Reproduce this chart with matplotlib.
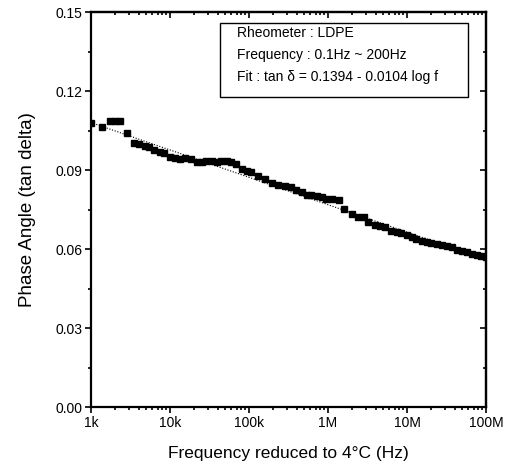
import numpy as np
import matplotlib
matplotlib.use('Agg')
import matplotlib.pyplot as plt
from matplotlib.patches import Rectangle
from matplotlib.ticker import FixedLocator, LogLocator, NullFormatter, MultipleLocator

plt.rcParams['font.family'] = ['Liberation Sans', 'DejaVu Sans']

# log10 of frequency (Hz) and tan delta
log_freq = [3.00, 3.14, 3.24, 3.30, 3.37, 3.45, 3.55, 3.61, 3.68, 3.74,
            3.80, 3.87, 3.93, 4.00, 4.06, 4.13, 4.19, 4.26, 4.34, 4.40,
            4.46, 4.53, 4.59, 4.65, 4.72, 4.77, 4.84, 4.91, 4.97, 5.03,
            5.12, 5.20, 5.29, 5.37, 5.46, 5.53, 5.60, 5.67, 5.73, 5.79,
            5.86, 5.92, 5.98, 6.05, 6.14, 6.20, 6.30, 6.38, 6.45, 6.51,
            6.59, 6.66, 6.72, 6.80, 6.87, 6.93, 7.00, 7.06, 7.12, 7.19,
            7.25, 7.31, 7.38, 7.44, 7.50, 7.57, 7.63, 7.69, 7.76, 7.82,
            7.88, 7.94, 8.00]
tan_delta = [0.1080, 0.1066, 0.1088, 0.1088, 0.1088, 0.1041, 0.1003, 0.1001, 0.0994, 0.0988,
             0.0978, 0.0972, 0.0965, 0.0953, 0.0946, 0.0945, 0.0946, 0.0942, 0.0934, 0.0934,
             0.0935, 0.0935, 0.0934, 0.0936, 0.0936, 0.0934, 0.0923, 0.0904, 0.0899, 0.0894,
             0.0879, 0.0866, 0.0854, 0.0845, 0.0841, 0.0836, 0.0826, 0.0820, 0.0808, 0.0806,
             0.0803, 0.0798, 0.0793, 0.0790, 0.0788, 0.0753, 0.0734, 0.0725, 0.0722, 0.0704,
             0.0693, 0.0689, 0.0686, 0.0671, 0.0667, 0.0661, 0.0655, 0.0649, 0.0639, 0.0634,
             0.0628, 0.0623, 0.0620, 0.0617, 0.0613, 0.0609, 0.0599, 0.0596, 0.0589, 0.0584,
             0.0579, 0.0575, 0.0570]

fit_a, fit_b = 0.1394, 0.0104
x_ticks = [1e3, 1e4, 1e5, 1e6, 1e7, 1e8]
x_labels = ['1k', '10k', '100k', '1M', '10M', '100M']
y_ticks = [0.00, 0.03, 0.06, 0.09, 0.12, 0.15]
box_lines = ['Rheometer : LDPE',
             'Frequency : 0.1Hz ~ 200Hz',
             'Fit : tan δ = 0.1394 - 0.0104 log f']

freq = 10 ** np.array(log_freq)
fit_x = np.logspace(3, 8, 50)
fit_y = fit_a - fit_b * np.log10(fit_x)

fig = plt.figure(figsize=(5.07, 4.68), dpi=100)
ax = fig.add_axes([0.1795, 0.1293, 0.7791, 0.844])

ax.plot(fit_x, fit_y, color='black', lw=0.8, ls=(0, (1, 1.5)), zorder=3)
ax.plot(freq, tan_delta, 's', color='black', ms=5, zorder=2)

ax.set_xscale('log')
ax.set_xlim(1e3, 1e8)
ax.set_ylim(0, 0.15)
ax.xaxis.set_major_locator(FixedLocator(x_ticks))
ax.set_xticklabels(x_labels)
ax.xaxis.set_minor_locator(LogLocator(base=10, subs=np.arange(2, 10)))
ax.xaxis.set_minor_formatter(NullFormatter())
ax.set_yticks(y_ticks)
ax.set_yticklabels(['%.2f' % v for v in y_ticks])
ax.yaxis.set_minor_locator(MultipleLocator(0.015))

for s in ax.spines.values():
    s.set_linewidth(1.6)
ax.tick_params(which='both', direction='out', labelsize=10, width=1.2, pad=2)
ax.tick_params(which='major', length=4)
ax.tick_params(which='minor', length=2.5)

# inward ticks on top and right, no labels
top = ax.secondary_xaxis('top')
top.xaxis.set_major_locator(FixedLocator(x_ticks))
top.xaxis.set_minor_locator(LogLocator(base=10, subs=np.arange(2, 10)))
top.xaxis.set_major_formatter(NullFormatter())
top.xaxis.set_minor_formatter(NullFormatter())
right = ax.secondary_yaxis('right')
right.set_yticks(y_ticks)
right.yaxis.set_minor_locator(MultipleLocator(0.015))
right.yaxis.set_major_formatter(NullFormatter())
for sec in (top, right):
    sec.tick_params(which='both', direction='in', width=1.2)
    sec.tick_params(which='major', length=4)
    sec.tick_params(which='minor', length=2.5)
    for s in sec.spines.values():
        s.set_linewidth(1.6)

ax.set_xlabel('Frequency reduced to 4°C (Hz)', fontsize=12.5, labelpad=12)
ax.set_ylabel('Phase Angle (tan delta)', fontsize=13.5, labelpad=14)

ax.add_patch(Rectangle((0.327, 0.786), 0.627, 0.187, transform=ax.transAxes,
                       fc='white', ec='black', lw=1.0, zorder=4))
for i, line in enumerate(box_lines):
    ax.text(0.370, 0.948 - i * 0.056, line, transform=ax.transAxes,
            fontsize=10, va='center', ha='left', zorder=5)

fig.savefig('out.png', dpi=100)
